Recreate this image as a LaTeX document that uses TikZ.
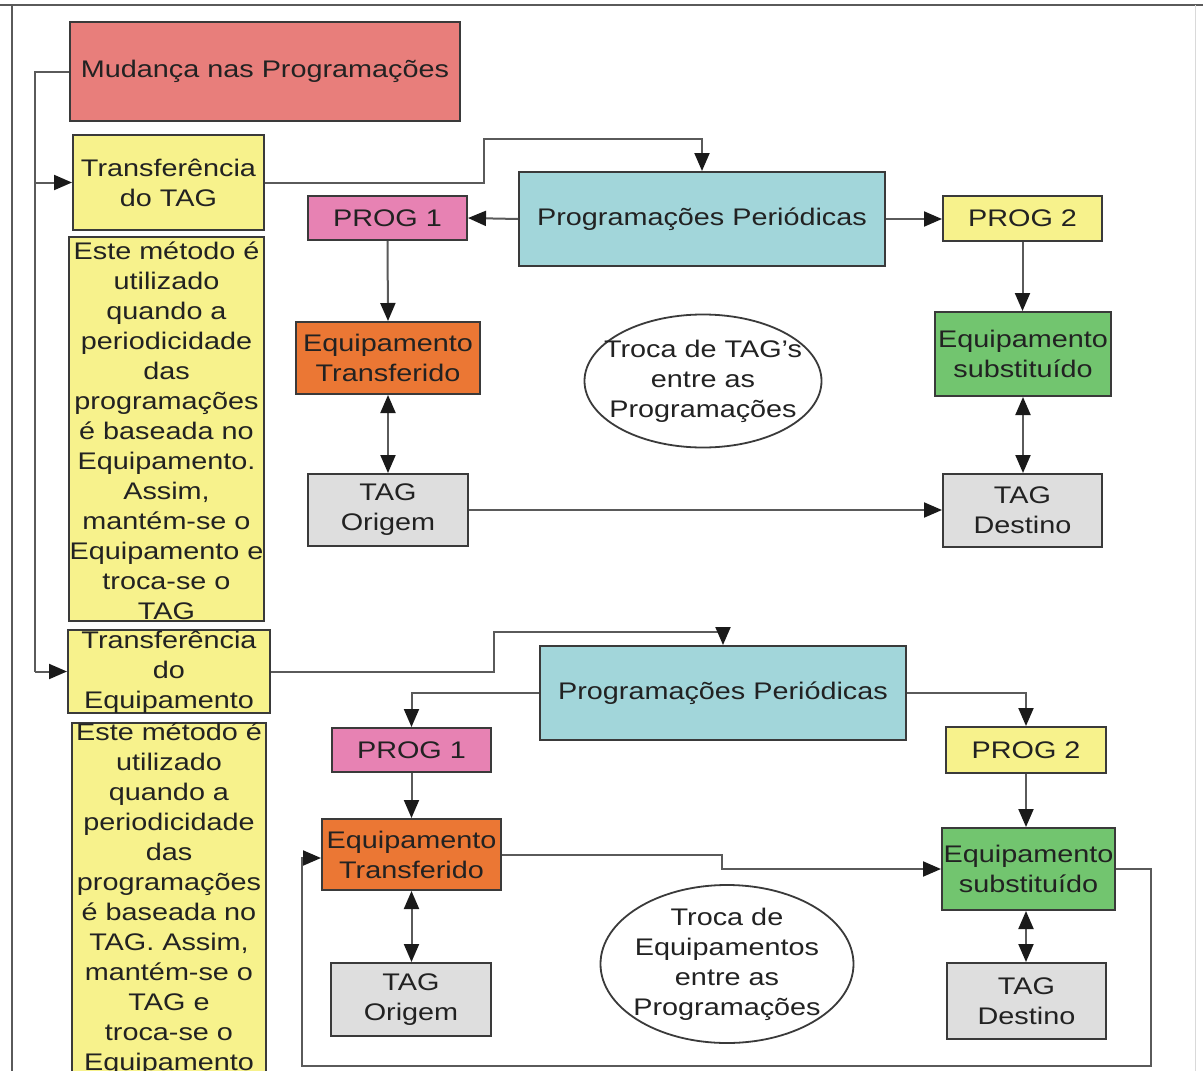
\documentclass[tikz,border=0pt]{standalone}
\usepackage{fontspec}
\setmainfont{Liberation Sans}[FakeStretch=1.2]
\usetikzlibrary{arrows.meta,shapes.geometric,calc}

\definecolor{boxline}{HTML}{3A3A3A}
\definecolor{connline}{HTML}{5A5A5A}
\definecolor{tipcol}{HTML}{1A1A1A}
\definecolor{txtcol}{HTML}{222222}
\definecolor{redfill}{HTML}{E87E7B}
\definecolor{yelfill}{HTML}{F7F28C}
\definecolor{cyanfill}{HTML}{A2D6DA}
\definecolor{pinkfill}{HTML}{E782B3}
\definecolor{orgfill}{HTML}{EB7734}
\definecolor{grnfill}{HTML}{72C56F}
\definecolor{gryfill}{HTML}{DEDEDE}

\tikzset{
  lbl/.style={font=\fontsize{24}{30}\selectfont, text=txtcol, align=center, inner sep=0pt},
  card/.style={lbl, draw=boxline, line width=2pt, rectangle},
  ovalbox/.style={draw=boxline, line width=1.8pt, ellipse, inner sep=0pt},
  conn/.style={draw=connline, line width=2pt},
  arr/.style={conn, -{Triangle[length=18pt,width=15pt,color=tipcol]}},
  darr/.style={conn, {Triangle[length=18pt,width=15pt,color=tipcol]}-{Triangle[length=18pt,width=15pt,color=tipcol]}},
}

\begin{document}
\begin{tikzpicture}[x=1pt, y=-1pt]
\clip (0,0) rectangle (1203,1071);
\fill[white] (0,0) rectangle (1203,1071);

% outer frame
\draw[connline, line width=2.5pt] (0,5) -- (1203,5);
\draw[connline, line width=2pt] (12,5) -- (12,1080);
\draw[black!15, line width=1pt] (1195,5) -- (1195,1080);

% left column
\node[card, fill=redfill, minimum width=390, minimum height=99] (mud) at (265,71.5) {Mudança nas Programações};
\node[card, fill=yelfill, minimum width=191, minimum height=95] (ttag) at (168.5,182.5) {Transferência\\do TAG};
\node[card, fill=yelfill, minimum width=195, minimum height=384] (nota1) at (166.5,429) {};
\node[lbl] at ([yshift=-2]nota1.center) {Este método é\\utilizado\\quando a\\periodicidade\\das\\programações\\é baseada no\\Equipamento.\\Assim,\\mantém-se o\\Equipamento e\\troca-se o\\TAG};
\node[card, fill=yelfill, minimum width=202, minimum height=83] (tequip) at (169,671.5) {};
\node[lbl] at ([yshift=-1]tequip.center) {Transferência\\do\\Equipamento};
\node[card, fill=yelfill, minimum width=194, minimum height=370, anchor=north] (nota2) at (169,722) {};
\node[lbl, anchor=north] at ([yshift=-1]nota2.north) {Este método é\\utilizado\\quando a\\periodicidade\\das\\programações\\é baseada no\\TAG. Assim,\\mantém-se o\\TAG e\\troca-se o\\Equipamento};

% upper exchange: TAG swap
\node[card, fill=cyanfill, minimum width=366, minimum height=94] (ppa) at (702,219) {Programações Periódicas};
\node[card, fill=pinkfill, minimum width=159, minimum height=44] (p1a) at (387.5,218) {PROG 1};
\node[card, fill=yelfill, minimum width=159, minimum height=45] (p2a) at (1022.5,218.5) {PROG 2};
\node[card, fill=orgfill, minimum width=184, minimum height=72] (eta) at (388,358) {Equipamento\\Transferido};
\node[card, fill=grnfill, minimum width=176, minimum height=84] (esa) at (1023,354) {Equipamento\\substituído};
\node[ovalbox, minimum width=237, minimum height=133] (ella) at (703,381) {};
\node[lbl] at (ella) {Troca de TAG's\\entre as\\Programações};
\node[card, fill=gryfill, minimum width=160, minimum height=72] (toa) at (388,510) {TAG\\Origem};
\node[card, fill=gryfill, minimum width=159, minimum height=73] (tda) at (1022.5,510.5) {TAG\\Destino};

% lower exchange: equipment swap
\node[card, fill=cyanfill, minimum width=366, minimum height=94] (ppb) at (723,693) {Programações Periódicas};
\node[card, fill=pinkfill, minimum width=159, minimum height=44] (p1b) at (411.5,750) {PROG 1};
\node[card, fill=yelfill, minimum width=160, minimum height=46] (p2b) at (1026,750) {PROG 2};
\node[card, fill=orgfill, minimum width=179, minimum height=71] (etb) at (411.5,854.5) {Equipamento\\Transferido};
\node[card, fill=grnfill, minimum width=173, minimum height=82] (esb) at (1028.5,869) {Equipamento\\substituído};
\node[ovalbox, minimum width=253, minimum height=158] (ellb) at (727,964) {};
\node[lbl] at (ellb) {Troca de\\Equipamentos\\entre as\\Programações};
\node[card, fill=gryfill, minimum width=160, minimum height=73] (tob) at (411,999.5) {TAG\\Origem};
\node[card, fill=gryfill, minimum width=159, minimum height=76] (tdb) at (1026.5,1001) {TAG\\Destino};

% branch from the change box
\coordinate (busTop) at (35,71.5);
\coordinate (busBot) at (35,671.5);
\draw[conn] (mud.west) -- (busTop) -- (busBot);
\draw[arr] (busTop |- ttag.west) -- (ttag.west);
\draw[arr] (busBot) -- (tequip.west);

% upper connectors
\draw[arr] (ttag.east) -| (484,139) -| (ppa.north);
\draw[arr] (ppa.west) -- (p1a.east);
\draw[arr] (ppa.east) -- (ppa.east -| p2a.west);
\draw[arr] (p1a.south) -- (eta.north);
\draw[arr] (p2a.south) -- (p2a.south |- esa.north);
\draw[darr] (eta.south) -- (toa.north);
\draw[darr] (esa.south) -- (esa.south |- tda.north);
\draw[arr] (toa.east) -- (toa.east -| tda.west);

% lower connectors
\draw[arr] (tequip.east) -| (494,632) -| (ppb.north);
\draw[arr] (ppb.west) -| (p1b.north);
\draw[arr] (ppb.east) -| (p2b.north);
\draw[arr] (p1b.south) -- (p1b.south |- etb.north);
\draw[arr] (p2b.south) -- (p2b.south |- esb.north);
\draw[darr] (etb.south) -- (etb.south |- tob.north);
\draw[darr] (esb.south -| p2b.south) -- (p2b.south |- tdb.north);
\draw[arr] (etb.east) -| ($(etb.east)!0.5!(esb.west)$) |- (esb.west);
\draw[arr] (esb.east) -- ++(35,0) |- (302,1066) |- ($(etb.west)+(0,3.5)$);
\end{tikzpicture}
\end{document}
